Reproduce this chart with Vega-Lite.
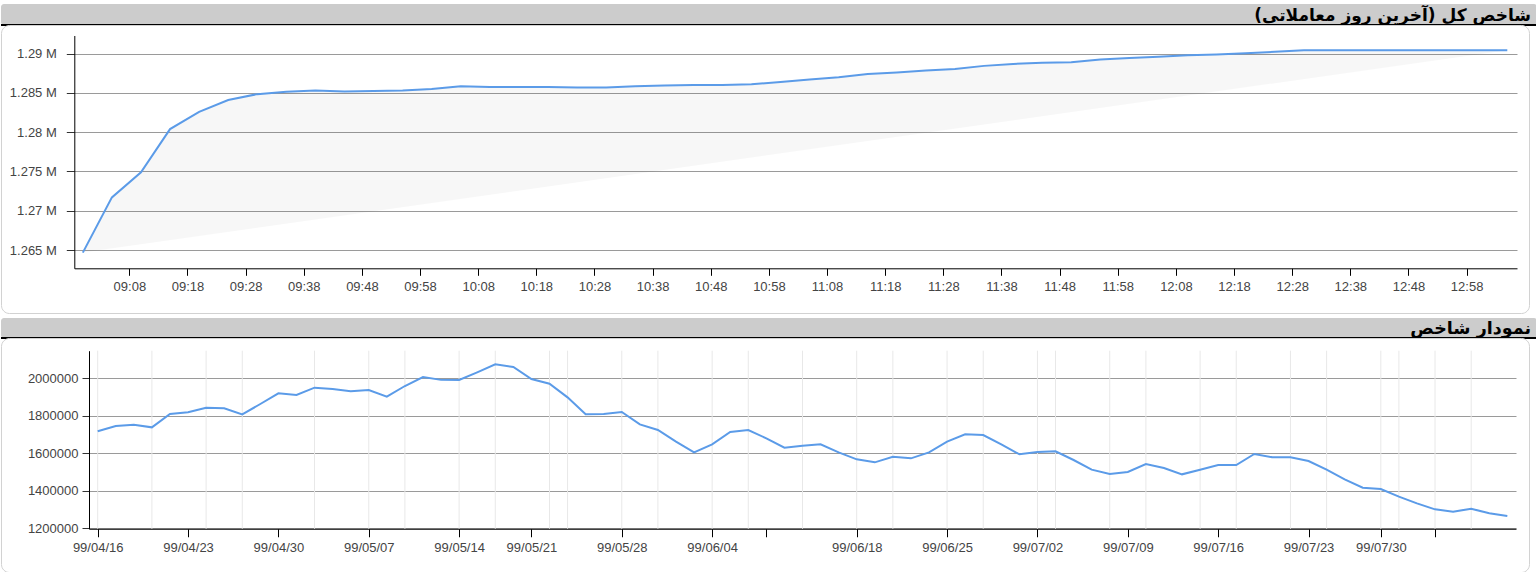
{
  "$schema": "https://vega.github.io/schema/vega-lite/v6.json",
  "padding": {"left": 0, "top": 4, "right": 0, "bottom": 0},
  "background": "white",
  "config": {
    "view": {"stroke": null},
    "font": "Liberation Sans",
    "axis": {"labelFont": "Liberation Sans", "labelFontSize": 13, "labelColor": "#444", "domainColor": "#000", "tickColor": "#333", "title": null}
  },
  "datasets": {
    "intraday": [
      {"time": "09:00", "value": 1264670}, {"time": "09:05", "value": 1271700}, {"time": "09:10", "value": 1274900},
      {"time": "09:15", "value": 1280400}, {"time": "09:20", "value": 1282600}, {"time": "09:25", "value": 1284100},
      {"time": "09:30", "value": 1284850}, {"time": "09:35", "value": 1285150}, {"time": "09:40", "value": 1285300},
      {"time": "09:45", "value": 1285200}, {"time": "09:50", "value": 1285250}, {"time": "09:55", "value": 1285300},
      {"time": "10:00", "value": 1285500}, {"time": "10:05", "value": 1285850}, {"time": "10:10", "value": 1285750},
      {"time": "10:15", "value": 1285750}, {"time": "10:20", "value": 1285750}, {"time": "10:25", "value": 1285700},
      {"time": "10:30", "value": 1285700}, {"time": "10:35", "value": 1285850}, {"time": "10:40", "value": 1285950},
      {"time": "10:45", "value": 1286000}, {"time": "10:50", "value": 1286000}, {"time": "10:55", "value": 1286100},
      {"time": "11:00", "value": 1286400}, {"time": "11:05", "value": 1286700}, {"time": "11:10", "value": 1287000},
      {"time": "11:15", "value": 1287400}, {"time": "11:20", "value": 1287600}, {"time": "11:25", "value": 1287850},
      {"time": "11:30", "value": 1288050}, {"time": "11:35", "value": 1288450}, {"time": "11:40", "value": 1288700},
      {"time": "11:45", "value": 1288850}, {"time": "11:50", "value": 1288900}, {"time": "11:55", "value": 1289250},
      {"time": "12:00", "value": 1289450}, {"time": "12:05", "value": 1289600}, {"time": "12:10", "value": 1289800},
      {"time": "12:15", "value": 1289900}, {"time": "12:20", "value": 1290050}, {"time": "12:25", "value": 1290250},
      {"time": "12:30", "value": 1290450}, {"time": "12:35", "value": 1290450}, {"time": "12:40", "value": 1290450},
      {"time": "12:45", "value": 1290450}, {"time": "12:50", "value": 1290450}, {"time": "12:55", "value": 1290450},
      {"time": "13:00", "value": 1290450}, {"time": "13:05", "value": 1290450}
    ],
    "daily": [
      {"date": "99/04/16", "value": 1715560}, {"date": "99/04/17", "value": 1744000}, {"date": "99/04/18", "value": 1751100},
      {"date": "99/04/21", "value": 1736900}, {"date": "99/04/22", "value": 1808000}, {"date": "99/04/23", "value": 1816900},
      {"date": "99/04/24", "value": 1841800}, {"date": "99/04/25", "value": 1838200}, {"date": "99/04/28", "value": 1806200},
      {"date": "99/04/29", "value": 1861300}, {"date": "99/04/30", "value": 1918200}, {"date": "99/04/31", "value": 1909300},
      {"date": "99/05/01", "value": 1948400}, {"date": "99/05/04", "value": 1941300}, {"date": "99/05/05", "value": 1928900},
      {"date": "99/05/07", "value": 1936000}, {"date": "99/05/08", "value": 1900400}, {"date": "99/05/11", "value": 1957300},
      {"date": "99/05/12", "value": 2005300}, {"date": "99/05/13", "value": 1990000}, {"date": "99/05/14", "value": 1989300},
      {"date": "99/05/15", "value": 2030000}, {"date": "99/05/19", "value": 2072900}, {"date": "99/05/20", "value": 2058700},
      {"date": "99/05/21", "value": 1994700}, {"date": "99/05/22", "value": 1969800}, {"date": "99/05/25", "value": 1896900},
      {"date": "99/05/26", "value": 1806200}, {"date": "99/05/27", "value": 1808000}, {"date": "99/05/28", "value": 1818700},
      {"date": "99/05/29", "value": 1752900}, {"date": "99/06/01", "value": 1722700}, {"date": "99/06/02", "value": 1660400},
      {"date": "99/06/03", "value": 1603600}, {"date": "99/06/04", "value": 1646200}, {"date": "99/06/05", "value": 1712000},
      {"date": "99/06/10", "value": 1722700}, {"date": "99/06/11", "value": 1678200}, {"date": "99/06/12", "value": 1628400},
      {"date": "99/06/15", "value": 1639100}, {"date": "99/06/16", "value": 1646200}, {"date": "99/06/17", "value": 1603600},
      {"date": "99/06/18", "value": 1566200}, {"date": "99/06/19", "value": 1550200}, {"date": "99/06/22", "value": 1580400},
      {"date": "99/06/23", "value": 1571500}, {"date": "99/06/24", "value": 1603600}, {"date": "99/06/25", "value": 1660400},
      {"date": "99/06/26", "value": 1699600}, {"date": "99/06/29", "value": 1696000}, {"date": "99/06/31", "value": 1646200},
      {"date": "99/07/01", "value": 1592900}, {"date": "99/07/02", "value": 1605300}, {"date": "99/07/05", "value": 1608900},
      {"date": "99/07/06", "value": 1562700}, {"date": "99/07/07", "value": 1511100}, {"date": "99/07/08", "value": 1488000},
      {"date": "99/07/09", "value": 1498700}, {"date": "99/07/12", "value": 1541300}, {"date": "99/07/13", "value": 1520000},
      {"date": "99/07/14", "value": 1486200}, {"date": "99/07/15", "value": 1511100}, {"date": "99/07/16", "value": 1536000},
      {"date": "99/07/19", "value": 1536000}, {"date": "99/07/20", "value": 1594700}, {"date": "99/07/21", "value": 1576900},
      {"date": "99/07/22", "value": 1576900}, {"date": "99/07/23", "value": 1557300}, {"date": "99/07/27", "value": 1511100},
      {"date": "99/07/28", "value": 1459600}, {"date": "99/07/29", "value": 1415100}, {"date": "99/07/30", "value": 1408000},
      {"date": "99/08/03", "value": 1367100}, {"date": "99/08/04", "value": 1331600}, {"date": "99/08/05", "value": 1299600},
      {"date": "99/08/06", "value": 1287100}, {"date": "99/08/07", "value": 1303100}, {"date": "99/08/10", "value": 1278200},
      {"date": "99/08/11", "value": 1264000}
    ],
    "dailyGrid": [
      {"date": "99/04/16"}, {"date": "99/04/21"}, {"date": "99/04/24"}, {"date": "99/04/28"}, {"date": "99/05/01"},
      {"date": "99/05/07"}, {"date": "99/05/11"}, {"date": "99/05/14"}, {"date": "99/05/19"}, {"date": "99/05/22"},
      {"date": "99/05/25"}, {"date": "99/05/28"}, {"date": "99/06/01"}, {"date": "99/06/04"}, {"date": "99/06/10"},
      {"date": "99/06/15"}, {"date": "99/06/18"}, {"date": "99/06/22"}, {"date": "99/06/25"}, {"date": "99/06/29"},
      {"date": "99/07/02"}, {"date": "99/07/05"}, {"date": "99/07/08"}, {"date": "99/07/12"}, {"date": "99/07/15"},
      {"date": "99/07/19"}, {"date": "99/07/22"}, {"date": "99/07/27"}, {"date": "99/07/30"}, {"date": "99/08/03"},
      {"date": "99/08/05"}, {"date": "99/08/07"}
    ]
  },
  "spacing": 4,
  "vconcat": [
    {
      "spacing": 0,
      "bounds": "flush",
      "vconcat": [
        {
          "width": 1536,
          "height": 21,
          "view": {"fill": "#cccccc", "stroke": null, "cornerRadius": 3},
          "data": {"values": [{"title": "شاخص کل (آخرین روز معاملاتی)\u200f"}]},
          "layer": [
            {
              "mark": {"type": "rule", "color": "#000000", "strokeWidth": 2},
              "encoding": {"y": {"datum": 0, "type": "quantitative", "scale": {"domain": [0, 1]}, "axis": null}}
            },
            {
              "mark": {"type": "text", "align": "right", "baseline": "middle", "font": "DejaVu Sans", "fontWeight": "bold", "fontSize": 17, "color": "#000000", "dx": -6, "dy": 1},
              "encoding": {
                "text": {"field": "title"},
                "x": {"datum": 1, "type": "quantitative", "scale": {"domain": [0, 1]}, "axis": null}
              }
            }
          ]
        },
        {
          "width": 1528,
          "height": 288,
          "view": {"fill": "white", "stroke": "#d2d2d2", "cornerRadius": 8},
          "data": {"name": "intraday", "format": {"parse": {"time": "date:'%H:%M'"}}},
          "encoding": {
            "x": {
              "field": "time",
              "type": "temporal",
              "scale": {
                "domain": [
                  {"year": 1900, "month": 1, "date": 1, "hours": 8, "minutes": 58, "seconds": 32},
                  {"year": 1900, "month": 1, "date": 1, "hours": 13, "minutes": 6, "seconds": 40}
                ],
                "range": [73.3, 1516]
              },
              "axis": {
                "values": [
                  {"year": 1900, "month": 1, "date": 1, "hours": 9, "minutes": 8},
                  {"year": 1900, "month": 1, "date": 1, "hours": 9, "minutes": 18},
                  {"year": 1900, "month": 1, "date": 1, "hours": 9, "minutes": 28},
                  {"year": 1900, "month": 1, "date": 1, "hours": 9, "minutes": 38},
                  {"year": 1900, "month": 1, "date": 1, "hours": 9, "minutes": 48},
                  {"year": 1900, "month": 1, "date": 1, "hours": 9, "minutes": 58},
                  {"year": 1900, "month": 1, "date": 1, "hours": 10, "minutes": 8},
                  {"year": 1900, "month": 1, "date": 1, "hours": 10, "minutes": 18},
                  {"year": 1900, "month": 1, "date": 1, "hours": 10, "minutes": 28},
                  {"year": 1900, "month": 1, "date": 1, "hours": 10, "minutes": 38},
                  {"year": 1900, "month": 1, "date": 1, "hours": 10, "minutes": 48},
                  {"year": 1900, "month": 1, "date": 1, "hours": 10, "minutes": 58},
                  {"year": 1900, "month": 1, "date": 1, "hours": 11, "minutes": 8},
                  {"year": 1900, "month": 1, "date": 1, "hours": 11, "minutes": 18},
                  {"year": 1900, "month": 1, "date": 1, "hours": 11, "minutes": 28},
                  {"year": 1900, "month": 1, "date": 1, "hours": 11, "minutes": 38},
                  {"year": 1900, "month": 1, "date": 1, "hours": 11, "minutes": 48},
                  {"year": 1900, "month": 1, "date": 1, "hours": 11, "minutes": 58},
                  {"year": 1900, "month": 1, "date": 1, "hours": 12, "minutes": 8},
                  {"year": 1900, "month": 1, "date": 1, "hours": 12, "minutes": 18},
                  {"year": 1900, "month": 1, "date": 1, "hours": 12, "minutes": 28},
                  {"year": 1900, "month": 1, "date": 1, "hours": 12, "minutes": 38},
                  {"year": 1900, "month": 1, "date": 1, "hours": 12, "minutes": 48},
                  {"year": 1900, "month": 1, "date": 1, "hours": 12, "minutes": 58}
                ],
                "format": "%H:%M",
                "grid": false,
                "tickSize": 7,
                "tickColor": "#000",
                "labelPadding": 5,
                "labelFlush": false,
                "labelOverlap": false,
                "labelAngle": 0,
                "offset": -44.7
              }
            },
            "y": {
              "field": "value",
              "type": "quantitative",
              "scale": {"domain": [1262670, 1292318], "range": [243.3, 10.5], "zero": false, "nice": false},
              "axis": {
                "values": [1265000, 1270000, 1275000, 1280000, 1285000, 1290000],
                "labelExpr": "format(datum.value / 1000000, '.3~f') + ' M'",
                "grid": true,
                "gridColor": "#9a9a9a",
                "tickSize": 8,
                "labelPadding": 10,
                "offset": -73.3
              }
            }
          },
          "layer": [
            {"mark": {"type": "line", "fill": "#000000", "fillOpacity": 0.032, "strokeOpacity": 0, "strokeWidth": 0}},
            {"mark": {"type": "line", "color": "#5b9be8", "strokeWidth": 2}}
          ]
        }
      ]
    },
    {
      "spacing": 0,
      "bounds": "flush",
      "vconcat": [
        {
          "width": 1536,
          "height": 20,
          "view": {"fill": "#cccccc", "stroke": null, "cornerRadius": 3},
          "data": {"values": [{"title": "نمودار شاخص\u200f"}]},
          "layer": [
            {
              "mark": {"type": "rule", "color": "#000000", "strokeWidth": 2},
              "encoding": {"y": {"datum": 0, "type": "quantitative", "scale": {"domain": [0, 1]}, "axis": null}}
            },
            {
              "mark": {"type": "text", "align": "right", "baseline": "middle", "font": "DejaVu Sans", "fontWeight": "bold", "fontSize": 17.5, "color": "#000000", "dx": -6, "dy": 1},
              "encoding": {
                "text": {"field": "title"},
                "x": {"datum": 1, "type": "quantitative", "scale": {"domain": [0, 1]}, "axis": null}
              }
            }
          ]
        },
        {
          "width": 1528,
          "height": 234,
          "view": {"fill": "white", "stroke": "#d2d2d2", "cornerRadius": 8},
          "encoding": {
            "x": {
              "field": "date",
              "type": "ordinal",
              "scale": {"type": "point", "range": [88, 1515], "padding": 0.48},
              "axis": {
                "values": ["99/04/16", "99/04/23", "99/04/30", "99/05/07", "99/05/14", "99/05/21", "99/05/28", "99/06/04", "99/06/11", "99/06/18", "99/06/25", "99/07/02", "99/07/09", "99/07/16", "99/07/23", "99/07/30", "99/08/05"],
                "labelExpr": "datum.value == '99/06/11' || datum.value == '99/08/05' ? '' : datum.value",
                "labelAngle": 0,
                "labelOverlap": false,
                "labelBound": false,
                "grid": false,
                "tickSize": 8,
                "tickColor": "#000",
                "labelPadding": 5,
                "offset": -43.25
              }
            }
          },
          "layer": [
            {
              "data": {"name": "dailyGrid"},
              "mark": {"type": "rule", "color": "#e8e8e8", "strokeWidth": 1},
              "encoding": {
                "y": {"datum": 1196000, "type": "quantitative", "scale": {"domain": [1196000, 2145600], "range": [190.75, 12.7], "zero": false, "nice": false}},
                "y2": {"datum": 2145600}
              }
            },
            {
              "data": {"name": "daily"},
              "mark": {"type": "line", "color": "#5b9be8", "strokeWidth": 2},
              "encoding": {
                "y": {
                  "field": "value",
                  "type": "quantitative",
                  "scale": {"domain": [1196000, 2145600], "range": [190.75, 12.7], "zero": false, "nice": false},
                  "axis": {
                    "values": [1200000, 1400000, 1600000, 1800000, 2000000],
                    "format": "d",
                    "grid": true,
                    "gridColor": "#9a9a9a",
                    "tickSize": 7,
                    "labelPadding": 4,
                    "offset": -88
                  }
                }
              }
            }
          ]
        }
      ]
    }
  ]
}
